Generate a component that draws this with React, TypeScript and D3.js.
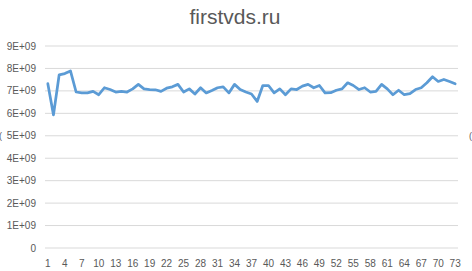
import React from "react";
import * as d3 from "d3";

const categories: number[] = Array.from({ length: 73 }, (_, i) => i + 1);
const values: number[] = [
  7.32, 5.93, 7.71, 7.77, 7.89, 6.95, 6.91, 6.91, 6.98, 6.83,
  7.14, 7.06, 6.95, 6.98, 6.95, 7.09, 7.29, 7.09, 7.06, 7.05,
  6.98, 7.12, 7.18, 7.29, 6.95, 7.09, 6.86, 7.14, 6.91, 7.02,
  7.14, 7.18, 6.91, 7.29, 7.06, 6.95, 6.86, 6.53, 7.24, 7.24,
  6.91, 7.09, 6.83, 7.09, 7.06, 7.21, 7.29, 7.14, 7.24, 6.91,
  6.92, 7.03, 7.09, 7.36, 7.24, 7.06, 7.14, 6.95, 6.98, 7.29,
  7.09, 6.83, 7.03, 6.83, 6.88, 7.06, 7.14, 7.36, 7.63, 7.42,
  7.51, 7.42, 7.32,
].map((v) => v * 1e9);
const yTicks: number[] = [0, 1e9, 2e9, 3e9, 4e9, 5e9, 6e9, 7e9, 8e9, 9e9];
const yTickLabels: string[] = ["0", "1E+09", "2E+09", "3E+09", "4E+09", "5E+09", "6E+09", "7E+09", "8E+09", "9E+09"];
const title = "firstvds.ru";

export default function App() {
  const W = 472, H = 271;
  const left = 45, right = 458, top = 46, bottom = 248;
  const x = d3.scaleBand<number>().domain(categories).range([left, right]);
  const y = d3.scaleLinear().domain([0, 9e9]).range([bottom, top]);
  const cx = (c: number) => (x(c) as number) + x.bandwidth() / 2;
  const line = d3
    .line<number>()
    .x((_, i) => cx(categories[i]))
    .y((d) => y(d));
  const font = "'Liberation Sans', Arial, sans-serif";
  return (
    <svg
      width={W}
      height={H}
      style={{ position: "absolute", left: 0, top: 0, background: "#fff" }}
      fontFamily={font}
    >
      <text x={235} y={24} textAnchor="middle" fontSize={21} fill="#595959">
        {title}
      </text>
      {yTicks.map((t, i) => (
        <g key={t}>
          <line x1={left} x2={right} y1={y(t)} y2={y(t)} stroke="#D9D9D9" strokeWidth={1} />
          <text x={36} y={y(t) + 3.5} textAnchor="end" fontSize={10} fill="#595959">
            {yTickLabels[i]}
          </text>
        </g>
      ))}
      {categories
        .filter((c) => (c - 1) % 3 === 0)
        .map((c) => (
          <text key={c} x={cx(c)} y={267} textAnchor="middle" fontSize={10} fill="#595959">
            {c}
          </text>
        ))}
      <path d={line(values) || ""} fill="none" stroke="#5B9BD5" strokeWidth={2.75} strokeLinejoin="round" strokeLinecap="round" />
      <text x={-1} y={139} fontSize={9} fill="#595959">(</text>
      <text x={469} y={139} fontSize={9} fill="#595959">(</text>
    </svg>
  );
}
